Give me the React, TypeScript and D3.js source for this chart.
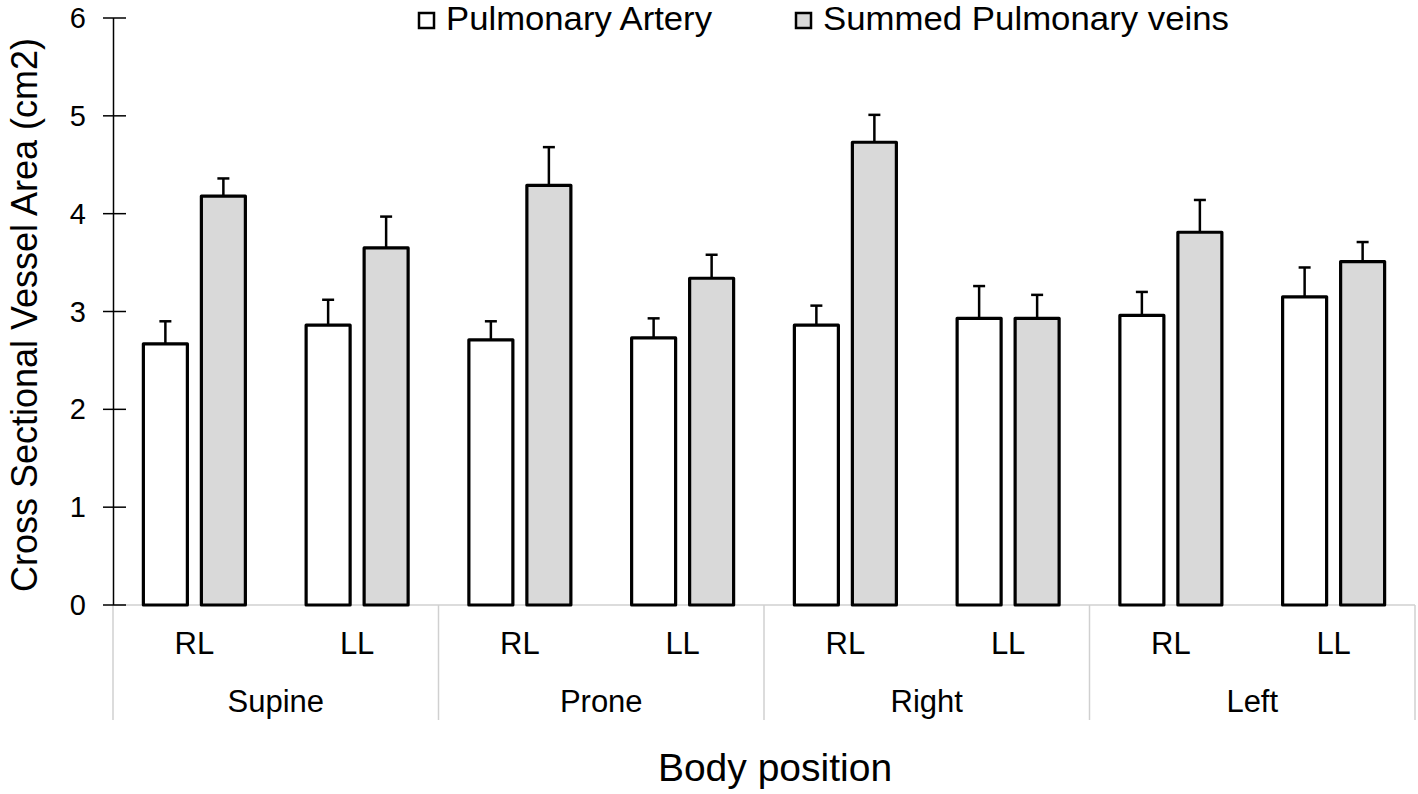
import React from "react";
import * as d3 from "d3";

const groups = ["Supine", "Prone", "Right", "Left"];
const subs = ["RL", "LL"];
const series = ["Pulmonary Artery", "Summed Pulmonary veins"];
// order: Supine RL, Supine LL, Prone RL, Prone LL, Right RL, Right LL, Left RL, Left LL
const arteryMean = [2.67, 2.86, 2.71, 2.73, 2.86, 2.93, 2.96, 3.15];
const arteryErr = [0.23, 0.26, 0.19, 0.2, 0.2, 0.33, 0.24, 0.3];
const veinMean = [4.18, 3.65, 4.29, 3.34, 4.73, 2.93, 3.81, 3.51];
const veinErr = [0.18, 0.32, 0.39, 0.24, 0.28, 0.24, 0.33, 0.2];
const yTicks = [0, 1, 2, 3, 4, 5, 6];
const fills = ["#ffffff", "#d9d9d9"];

export default function App() {
  const W = 1418, H = 794;
  const left = 113, right = 1415, top = 18, bottom = 605;
  const y = d3.scaleLinear().domain([0, 6]).range([bottom, top]);
  const cats = groups.flatMap((g) => subs.map((s) => `${g}-${s}`));
  const x = d3.scaleBand().domain(cats).range([left, right]).padding(0);
  const gx = d3.scaleBand().domain(groups).range([left, right]).padding(0);
  const barW = 44;
  const off = [-29, 29];
  const font = "'Liberation Sans', Arial, sans-serif";
  const data = [
    { m: arteryMean, e: arteryErr },
    { m: veinMean, e: veinErr },
  ];
  const axisX = 113.5;
  return (
    <svg width={W} height={H} style={{ position: "absolute", left: 0, top: 0 }} fontFamily={font}>
      <rect width={W} height={H} fill="#fff" />
      {/* baseline and category separators */}
      <line x1={left} x2={right} y1={bottom} y2={bottom} stroke="#d0d0d0" strokeWidth={1.5} />
      {groups.map((g) => (
        <line key={g} x1={gx(g)!} x2={gx(g)!} y1={bottom} y2={720} stroke="#d0d0d0" strokeWidth={1.5} />
      ))}
      <line x1={right} x2={right} y1={bottom} y2={720} stroke="#d0d0d0" strokeWidth={1.5} />
      {/* y axis */}
      <line x1={axisX} x2={axisX} y1={top} y2={bottom} stroke="#000" strokeWidth={1.5} />
      {yTicks.map((t) => (
        <g key={t}>
          <line x1={103} x2={126} y1={y(t)} y2={y(t)} stroke="#000" strokeWidth={1.5} />
          <text x={86} y={y(t)} dy="0.35em" textAnchor="end" fontSize={29}>{t}</text>
        </g>
      ))}
      {/* bars */}
      {data.map((s, si) =>
        cats.map((c, ci) => {
          const cx = x(c)! + x.bandwidth() / 2 + off[si];
          const yt = y(s.m[ci]);
          const ye = y(s.m[ci] + s.e[ci]);
          return (
            <g key={`${si}-${ci}`}>
              <line x1={cx} x2={cx} y1={yt} y2={ye} stroke="#000" strokeWidth={2.5} />
              <line x1={cx - 6} x2={cx + 6} y1={ye} y2={ye} stroke="#000" strokeWidth={2.5} />
              <rect x={cx - barW / 2} y={yt} width={barW} height={bottom - yt} fill={fills[si]} stroke="#000" strokeWidth={3.2} strokeLinejoin="round" />
            </g>
          );
        })
      )}
      {/* sub labels */}
      {cats.map((c, i) => (
        <text key={c} x={x(c)! + x.bandwidth() / 2} y={654} textAnchor="middle" fontSize={31}>
          {subs[i % 2]}
        </text>
      ))}
      {groups.map((g) => (
        <text key={g} x={gx(g)! + gx.bandwidth() / 2} y={712} textAnchor="middle" fontSize={31}>
          {g}
        </text>
      ))}
      {/* legend */}
      {series.map((s, i) => {
        const lx = [419, 796][i];
        return (
          <g key={s}>
            <rect x={lx} y={13} width={15} height={15} fill={fills[i]} stroke="#000" strokeWidth={2.5} />
            <text x={lx + 27} y={30} fontSize={33} textLength={[266, 406][i]} lengthAdjust="spacingAndGlyphs">{s}</text>
          </g>
        );
      })}
      {/* axis titles */}
      <text transform={`translate(37,315) rotate(-90)`} textAnchor="middle" fontSize={36}>
        Cross Sectional Vessel Area (cm2)
      </text>
      <text x={775} y={781} textAnchor="middle" fontSize={39}>Body position</text>
    </svg>
  );
}
